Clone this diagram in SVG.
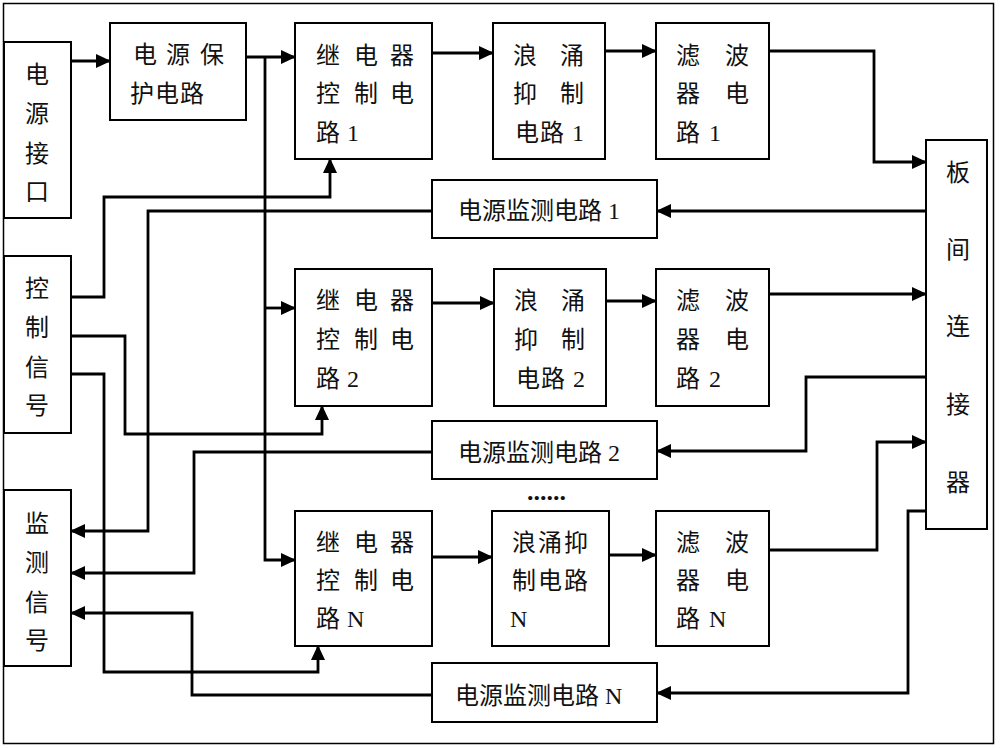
<svg xmlns="http://www.w3.org/2000/svg" width="1000" height="748" viewBox="0 0 1000 748">
<style>
.box{fill:#fff;stroke:#000;stroke-width:2}
.t{font-family:'Liberation Serif','Noto Sans CJK SC',serif;font-size:24px;fill:#111}
.c{text-anchor:middle}
.w{fill:none;stroke:#000;stroke-width:2.8}
.a{marker-end:url(#arr)}
</style>
<defs>
<marker id="arr" markerUnits="userSpaceOnUse" markerWidth="15" markerHeight="14" refX="14" refY="7" orient="auto">
<path d="M0,0 L15,7 L0,14 z" fill="#000"/>
</marker>
</defs>
<rect x="3.5" y="3.5" width="990" height="740" fill="#fff" stroke="#000" stroke-width="1.5"/>

<g id="connectors">
<path class="w a" d="M71,61 H110"/>
<path class="w a" d="M246,57 H295"/>
<path class="w a" d="M265,57 V560 H295"/>
<path class="w a" d="M265,308 H295"/>
<path class="w a" d="M432,53 H493"/>
<path class="w a" d="M605,51 H656"/>
<path class="w a" d="M769,51 H874 V162 H926"/>
<path class="w a" d="M926,211 H657"/>
<path class="w a" d="M432,211 H148 V531 H71"/>
<path class="w a" d="M71,297 H104 V197 H330 V159"/>
<path class="w a" d="M71,336 H125 V434 H322 V406"/>
<path class="w a" d="M71,374 H104 V672 H318 V646"/>
<path class="w a" d="M432,452 H194 V573 H71"/>
<path class="w a" d="M432,695 H192 V613 H71"/>
<path class="w a" d="M432,303 H494"/>
<path class="w a" d="M606,301 H656"/>
<path class="w a" d="M769,294 H926"/>
<path class="w a" d="M926,377 H806 V451 H657"/>
<path class="w a" d="M769,550 H877 V442 H926"/>
<path class="w a" d="M926,511 H908 V693 H657"/>
<path class="w a" d="M432,557 H492"/>
<path class="w a" d="M609,555 H656"/>
</g>

<g id="power-interface">
<rect class="box" x="4" y="42" width="67" height="176"/>
<text class="t c" x="37" y="83">电</text>
<text class="t c" x="37" y="122">源</text>
<text class="t c" x="37" y="162">接</text>
<text class="t c" x="37" y="200">口</text>
</g>

<g id="control-signal">
<rect class="box" x="4" y="256" width="67" height="177"/>
<text class="t c" x="37" y="297">控</text>
<text class="t c" x="37" y="336">制</text>
<text class="t c" x="37" y="376">信</text>
<text class="t c" x="37" y="414">号</text>
</g>

<g id="monitor-signal">
<rect class="box" x="4" y="490" width="67" height="176"/>
<text class="t c" x="37" y="532">监</text>
<text class="t c" x="37" y="571">测</text>
<text class="t c" x="37" y="611">信</text>
<text class="t c" x="37" y="649">号</text>
</g>

<g id="power-protect">
<rect class="box" x="110" y="23" width="136" height="97"/>
<text class="t" x="133 166 200" y="63">电源保</text>
<text class="t" x="130 155 180" y="102">护电路</text>
</g>

<g id="relay1">
<rect class="box" x="295" y="23" width="137" height="136"/>
<text class="t" x="316 354 390" y="64">继电器</text>
<text class="t" x="316 354 390" y="102">控制电</text>
<text class="t" x="316 347" y="141">路1</text>
</g>
<g id="surge1">
<rect class="box" x="493" y="23" width="112" height="136"/>
<text class="t" x="513 560" y="64">浪涌</text>
<text class="t" x="513 560" y="102">抑制</text>
<text class="t" x="515 540 572" y="141">电路1</text>
</g>
<g id="filter1">
<rect class="box" x="656" y="23" width="113" height="136"/>
<text class="t" x="676 725" y="64">滤波</text>
<text class="t" x="676 725" y="102">器电</text>
<text class="t" x="676 709" y="141">路1</text>
</g>
<g id="monitor1">
<rect class="box" x="432" y="180" width="225" height="58"/>
<text class="t" x="458" y="219">电源监测电路 1</text>
</g>

<g id="relay2">
<rect class="box" x="295" y="269" width="137" height="137"/>
<text class="t" x="316 354 390" y="309">继电器</text>
<text class="t" x="316 354 390" y="348">控制电</text>
<text class="t" x="316 347" y="387">路2</text>
</g>
<g id="surge2">
<rect class="box" x="494" y="269" width="112" height="137"/>
<text class="t" x="514 561" y="309">浪涌</text>
<text class="t" x="514 561" y="348">抑制</text>
<text class="t" x="516 541 573" y="387">电路2</text>
</g>
<g id="filter2">
<rect class="box" x="656" y="269" width="113" height="137"/>
<text class="t" x="676 725" y="309">滤波</text>
<text class="t" x="676 725" y="348">器电</text>
<text class="t" x="676 709" y="387">路2</text>
</g>
<g id="monitor2">
<rect class="box" x="432" y="421" width="225" height="58"/>
<text class="t" x="458" y="461">电源监测电路 2</text>
</g>

<text class="t" x="527" y="500" style="font-weight:bold;font-size:26px">......</text>

<g id="relayN">
<rect class="box" x="295" y="511" width="137" height="135"/>
<text class="t" x="316 354 390" y="551">继电器</text>
<text class="t" x="316 354 390" y="589">控制电</text>
<text class="t" x="316 347" y="627">路N</text>
</g>
<g id="surgeN">
<rect class="box" x="492" y="511" width="117" height="135"/>
<text class="t" x="512 538 564" y="551">浪涌抑</text>
<text class="t" x="512 538 564" y="589">制电路</text>
<text class="t" x="510" y="627">N</text>
</g>
<g id="filterN">
<rect class="box" x="656" y="511" width="113" height="135"/>
<text class="t" x="676 725" y="551">滤波</text>
<text class="t" x="676 725" y="589">器电</text>
<text class="t" x="676 709" y="627">路N</text>
</g>
<g id="monitorN">
<rect class="box" x="432" y="663" width="225" height="59"/>
<text class="t" x="455" y="704">电源监测电路 N</text>
</g>

<g id="board-connector">
<rect class="box" x="926" y="140" width="61" height="389"/>
<text class="t c" x="958" y="181">板</text>
<text class="t c" x="958" y="258">间</text>
<text class="t c" x="958" y="335">连</text>
<text class="t c" x="958" y="413">接</text>
<text class="t c" x="958" y="491">器</text>
</g>
</svg>
